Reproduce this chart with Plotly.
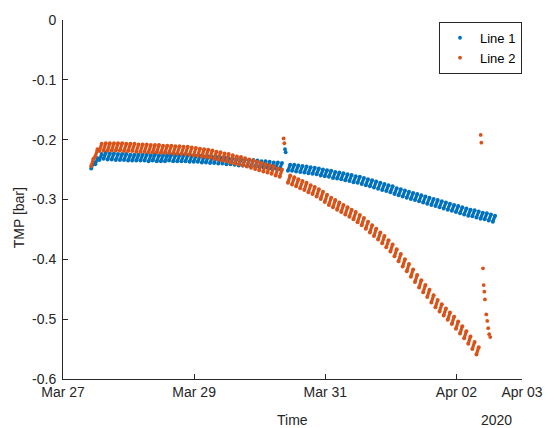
import pandas as pd
import plotly.graph_objects as go

# ---------------- data ----------------
cycle_start = "2020-03-27 10:19"
n_cycles = 99
cycle_minutes = 90
streak_minutes = 50

# Line 1 (blue): bottom (lo) and top (hi) of each cycle streak
blue_lo = [-0.248, -0.241, -0.234, -0.232, -0.233, -0.233, -0.234, -0.234, -0.234, -0.235,
           -0.235, -0.235, -0.235, -0.235, -0.236, -0.235, -0.236, -0.236, -0.236, -0.235,
           -0.236, -0.236, -0.236, -0.236, -0.237, -0.237, -0.237, -0.238, -0.238, -0.239,
           -0.239, -0.240, -0.240, -0.241, -0.241, -0.242, -0.243, -0.243, -0.244, -0.244,
           -0.245, -0.246, -0.246, -0.247, -0.248, -0.248, -0.249, None, -0.252, -0.252,
           -0.253, -0.254, -0.255, -0.256, -0.257, -0.258, -0.260, -0.261, -0.262, -0.264,
           -0.265, -0.266, -0.268, -0.269, -0.271, -0.272, -0.274, -0.276, -0.278, -0.280,
           -0.282, -0.284, -0.286, -0.288, -0.291, -0.293, -0.295, -0.297, -0.299, -0.301,
           -0.303, -0.305, -0.307, -0.309, -0.311, -0.313, -0.315, -0.317, -0.319, -0.321,
           -0.323, -0.325, -0.327, -0.328, -0.330, -0.332, -0.333, -0.335, -0.337]
blue_hi = [-0.238, -0.231, -0.224, -0.222, -0.223, -0.223, -0.224, -0.224, -0.224, -0.225,
           -0.225, -0.225, -0.225, -0.225, -0.226, -0.225, -0.226, -0.226, -0.226, -0.225,
           -0.226, -0.226, -0.226, -0.226, -0.227, -0.227, -0.227, -0.228, -0.228, -0.229,
           -0.229, -0.230, -0.230, -0.231, -0.231, -0.232, -0.233, -0.233, -0.234, -0.234,
           -0.235, -0.236, -0.236, -0.237, -0.238, -0.238, -0.239, None, -0.242, -0.242,
           -0.243, -0.244, -0.245, -0.246, -0.247, -0.248, -0.250, -0.251, -0.252, -0.254,
           -0.255, -0.256, -0.258, -0.259, -0.261, -0.262, -0.264, -0.266, -0.268, -0.270,
           -0.272, -0.274, -0.276, -0.278, -0.281, -0.283, -0.285, -0.287, -0.289, -0.291,
           -0.293, -0.295, -0.297, -0.299, -0.301, -0.303, -0.305, -0.307, -0.309, -0.311,
           -0.313, -0.315, -0.317, -0.318, -0.320, -0.322, -0.323, -0.325, -0.327]

# Line 2 (orange)
orange_lo = [-0.244, -0.228, -0.219, -0.218, -0.218, -0.218, -0.218, -0.218, -0.219, -0.219,
             -0.219, -0.220, -0.220, -0.220, -0.221, -0.221, -0.221, -0.222, -0.222, -0.222,
             -0.223, -0.223, -0.224, -0.224, -0.225, -0.226, -0.227, -0.228, -0.229, -0.230,
             -0.232, -0.233, -0.235, -0.236, -0.238, -0.240, -0.241, -0.243, -0.245, -0.247,
             -0.249, -0.251, -0.253, -0.255, -0.257, -0.260, -0.262, None, -0.272, -0.275,
             -0.278, -0.281, -0.284, -0.288, -0.291, -0.295, -0.299, -0.304, -0.309, -0.313,
             -0.317, -0.321, -0.325, -0.329, -0.333, -0.338, -0.343, -0.349, -0.355, -0.361,
             -0.367, -0.373, -0.380, -0.387, -0.395, -0.403, -0.412, -0.420, -0.429, -0.438,
             -0.447, -0.455, -0.463, -0.472, -0.480, -0.487, -0.494, -0.501, -0.508, -0.516,
             -0.524, -0.532, -0.541, -0.550, -0.559]
orange_hi = [-0.232, -0.216, -0.207, -0.206, -0.206, -0.206, -0.206, -0.206, -0.207, -0.207,
             -0.207, -0.208, -0.208, -0.208, -0.209, -0.209, -0.209, -0.210, -0.210, -0.210,
             -0.211, -0.211, -0.212, -0.212, -0.213, -0.214, -0.215, -0.216, -0.217, -0.218,
             -0.220, -0.221, -0.223, -0.224, -0.226, -0.228, -0.229, -0.231, -0.233, -0.235,
             -0.237, -0.239, -0.241, -0.243, -0.245, -0.248, -0.250, None, -0.260, -0.263,
             -0.266, -0.269, -0.272, -0.276, -0.279, -0.283, -0.287, -0.292, -0.297, -0.301,
             -0.305, -0.309, -0.313, -0.317, -0.321, -0.326, -0.331, -0.337, -0.343, -0.349,
             -0.355, -0.361, -0.368, -0.375, -0.383, -0.391, -0.400, -0.408, -0.417, -0.426,
             -0.435, -0.443, -0.451, -0.460, -0.468, -0.475, -0.482, -0.489, -0.496, -0.504,
             -0.512, -0.520, -0.529, -0.538, -0.547]

# isolated points
blue_extra_t = ["2020-03-30 09:15", "2020-03-30 09:30"]
blue_extra_v = [-0.216, -0.221]
orange_extra_t = ["2020-03-30 08:45", "2020-03-30 09:00",
                  "2020-04-02 08:53", "2020-04-02 09:07", "2020-04-02 09:43", "2020-04-02 09:58",
                  "2020-04-02 10:12", "2020-04-02 10:26", "2020-04-02 10:55", "2020-04-02 11:17",
                  "2020-04-02 11:38", "2020-04-02 12:00", "2020-04-02 12:22"]
orange_extra_v = [-0.198, -0.206,
                  -0.192, -0.205, -0.415, -0.443, -0.454, -0.467, -0.492, -0.503,
                  -0.515, -0.525, -0.530]

x_tick_vals = ["2020-03-27", "2020-03-29", "2020-03-31", "2020-04-02", "2020-04-03"]
x_tick_text = ["Mar 27", "Mar 29", "Mar 31", "Apr 02", "Apr 03"]
y_tick_vals = [0, -0.1, -0.2, -0.3, -0.4, -0.5, -0.6]
y_tick_text = ["0", "-0.1", "-0.2", "-0.3", "-0.4", "-0.5", "-0.6"]

BLUE = "#0072BD"
ORANGE = "#D95319"
AX = "#262626"
FONT = "Liberation Sans, Arial, Helvetica, sans-serif"

starts = pd.date_range(cycle_start, periods=n_cycles, freq=f"{cycle_minutes}min")


def streak_xy(lo, hi):
    xs, ys = [], []
    for t, a, b in zip(starts, lo, hi):
        if a is None:
            continue
        xs += [t, t + pd.Timedelta(minutes=streak_minutes), None]
        ys += [a, b, None]
    return xs, ys


fig = go.Figure()
bx, by = streak_xy(blue_lo, blue_hi)
fig.add_trace(go.Scatter(x=bx, y=by, mode="lines+markers", line=dict(color=BLUE, width=3.2),
                         marker=dict(color=BLUE, size=4), showlegend=False,
                         legendgroup="l1", hoverinfo="skip", connectgaps=False))
fig.add_trace(go.Scatter(x=pd.to_datetime(blue_extra_t), y=blue_extra_v, mode="markers",
                         marker=dict(color=BLUE, size=3.8), name="Line 1", legendgroup="l1"))
ox, oy = streak_xy(orange_lo, orange_hi)
fig.add_trace(go.Scatter(x=ox, y=oy, mode="lines+markers", line=dict(color=ORANGE, width=3.2),
                         marker=dict(color=ORANGE, size=4), showlegend=False,
                         legendgroup="l2", hoverinfo="skip", connectgaps=False))
fig.add_trace(go.Scatter(x=pd.to_datetime(orange_extra_t), y=orange_extra_v, mode="markers",
                         marker=dict(color=ORANGE, size=3.8), name="Line 2", legendgroup="l2"))

fig.update_layout(
    width=555, height=428,
    margin=dict(l=63, r=24, t=13, b=49),
    paper_bgcolor="white", plot_bgcolor="white",
    font=dict(family=FONT, size=14, color=AX),
    legend=dict(x=1.0, y=0.995, xanchor="right", yanchor="top",
                bgcolor="white", bordercolor=AX, borderwidth=1,
                font=dict(size=13, color="#000000"), tracegroupgap=0,
                itemwidth=30),
    xaxis=dict(type="date", range=["2020-03-27", "2020-04-03"],
               tickvals=x_tick_vals, ticktext=x_tick_text,
               ticks="inside", ticklen=5, tickcolor=AX, tickwidth=1,
               showline=True, linecolor=AX, linewidth=1, mirror=False,
               showgrid=False, zeroline=False, tickfont=dict(size=14, color=AX)),
    yaxis=dict(range=[-0.6, 0], tickvals=y_tick_vals, ticktext=y_tick_text,
               ticks="inside", ticklen=5, tickcolor=AX, tickwidth=1,
               showline=True, linecolor=AX, linewidth=1, mirror=False,
               showgrid=False, zeroline=False, tickfont=dict(size=14, color=AX),
               ticklabelstandoff=3),
    annotations=[
        dict(text="Time", x=0.5, y=-0.115, xref="paper", yref="paper",
             xanchor="center", yanchor="middle", showarrow=False,
             font=dict(size=14, color=AX)),
        dict(text="2020", x=0.9434, y=-0.115, xref="paper", yref="paper",
             xanchor="center", yanchor="middle", showarrow=False,
             font=dict(size=14, color=AX)),
        dict(text="TMP [bar]", x=-0.094, y=0.45, xref="paper", yref="paper",
             xanchor="center", yanchor="middle", showarrow=False, textangle=-90,
             font=dict(size=14, color=AX)),
    ],
)

fig.write_html("out.html")
